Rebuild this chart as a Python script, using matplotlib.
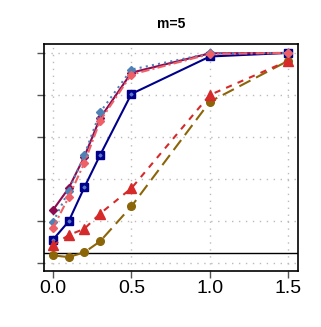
import numpy as np
import matplotlib
matplotlib.use('Agg')
import matplotlib.pyplot as plt

plt.rcParams['font.family'] = ['Liberation Sans', 'DejaVu Sans']

# effect sizes on the x axis
delta = [0.0, 0.1, 0.2, 0.3, 0.5, 1.0, 1.5]

# power curves, one per method
power_purple = [0.252, 0.356, 0.506, 0.689, 0.906, 0.998, 1.0]
power_steel = [0.194, 0.343, 0.514, 0.717, 0.921, 0.998, 1.0]
power_pink = [0.167, 0.313, 0.476, 0.676, 0.897, 0.995, 1.0]
power_navy = [0.111, 0.198, 0.360, 0.513, 0.805, 0.983, 1.0]
power_red = [0.084, 0.133, 0.163, 0.235, 0.356, 0.800, 0.963]
power_brown = [0.0365, 0.0286, 0.051, 0.103, 0.270, 0.768, 0.963]

alpha_level = 0.05
yticks = [0.0, 0.2, 0.4, 0.6, 0.8, 1.0]
xticks = [0.0, 0.5, 1.0, 1.5]

fig = plt.figure(figsize=(3.21, 3.27), dpi=100)
ax = fig.add_axes([0.136, 0.172, 0.793, 0.6925])

# grid
for xv in xticks:
    ax.axvline(xv, color='#bbbbbb', lw=1, linestyle=(0, (1, 4)), zorder=0)
for yv in yticks:
    ax.axhline(yv, color='#bbbbbb', lw=1, linestyle=(0, (1, 4)), zorder=0)

ax.axhline(alpha_level, color='black', lw=1, zorder=1)

ax.plot(delta, power_navy, color='#00008B', lw=1.5, marker='s', ms=6, zorder=2)
ax.plot(delta, power_navy, color='#5a78c8', lw=0, marker='D', ms=1.5, zorder=2.1)
ax.plot(delta, power_brown, color='#8B6508', lw=1.5, linestyle=(0, (6, 3)),
        marker='o', ms=5.5, zorder=3)
ax.plot(delta, power_red, color='#D62A2A', lw=1.5, linestyle=(0, (3, 3)),
        marker='^', ms=7, zorder=4)
ax.plot(delta, power_purple, color='#8B0A50', lw=1.5, marker='D', ms=4, zorder=5)
ax.plot(delta, power_steel, color='#4F81B5', lw=1.5, linestyle=(0, (1, 2)),
        marker='D', ms=4, zorder=6)
ax.plot(delta, power_pink, color='#EE6068', lw=1.5, linestyle=(0, (4, 1.5, 1, 1.5)),
        marker='D', ms=4, zorder=7)

ax.set_xlim(-0.059, 1.5626)
ax.set_ylim(-0.0365, 1.041)
ax.set_xticks(xticks)
ax.set_xticklabels(['0.0', '0.5', '1.0', '1.5'])
ax.set_yticks(yticks)
ax.set_yticklabels([])
ax.tick_params(axis='both', direction='out', length=5, width=1, color='#555555',
               labelsize=14, pad=2)
for sp in ax.spines.values():
    sp.set_linewidth(1.2)
    sp.set_color('black')

fig.text(0.532, 0.926, 'm=5', ha='center', va='center', fontsize=10, fontweight='bold')

plt.savefig('out.png', dpi=100)
